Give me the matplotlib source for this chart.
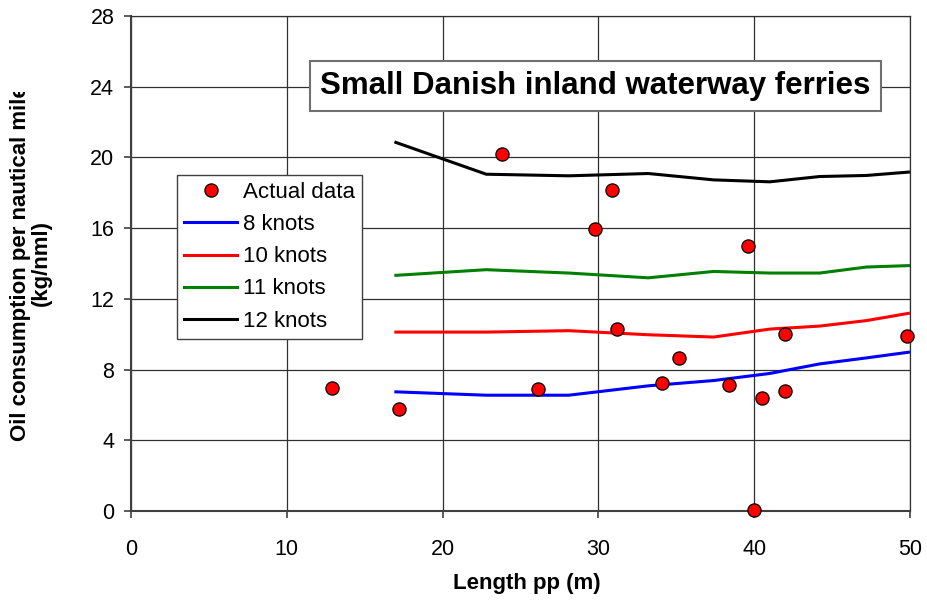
import numpy as np
import matplotlib
matplotlib.use("Agg")
import matplotlib.pyplot as plt
from matplotlib.transforms import Bbox, TransformedBbox

plt.rcParams['font.family'] = ['Liberation Sans', 'DejaVu Sans']

# actual data (length pp, kg/nml)
actual_len = [12.9, 17.2, 23.8, 26.1, 29.8, 30.9, 31.2, 34.1, 35.2, 38.4, 39.6, 40.0, 40.5, 42.0, 42.0, 49.8]
actual_oil = [6.97, 5.75, 20.2, 6.9, 15.95, 18.15, 10.3, 7.22, 8.64, 7.1, 15.0, 0.05, 6.4, 6.78, 10.03, 9.92]

# model curves
model_len = [17.0, 22.8, 28.1, 33.2, 37.4, 41.0, 44.2, 47.2, 49.9]
knots8 = [6.74, 6.55, 6.55, 7.08, 7.38, 7.78, 8.32, 8.66, 8.98]
knots10 = [10.12, 10.12, 10.2, 9.97, 9.84, 10.29, 10.46, 10.77, 11.18]
knots11 = [13.33, 13.65, 13.46, 13.19, 13.55, 13.46, 13.46, 13.8, 13.88]
knots12 = [20.85, 19.05, 18.96, 19.09, 18.73, 18.62, 18.92, 18.98, 19.17]

fig = plt.figure(figsize=(9.28, 6.01), dpi=100)
ax = fig.add_axes([131/928, 1-511/601, 779/928, 495/601])

ax.plot(actual_len, actual_oil, 'o', color='red', markeredgecolor='black',
        markeredgewidth=0.9, markersize=9.5, label='Actual data', zorder=5, clip_on=False)
ax.plot(model_len, knots8, color='blue', lw=2.2, label='8 knots')
ax.plot(model_len, knots10, color='red', lw=2.2, label='10 knots')
ax.plot(model_len, knots11, color='green', lw=2.2, label='11 knots')
ax.plot(model_len, knots12, color='black', lw=2.2, label='12 knots')

ax.set_xlim(0, 50)
ax.set_ylim(0, 28)
ax.set_xticks(range(0, 51, 10))
ax.set_yticks(range(0, 29, 4))
ax.grid(True, color='#303030', lw=0.9)
ax.set_axisbelow(True)
for s in ['left', 'bottom']:
    ax.spines[s].set_color('#404040')
    ax.spines[s].set_linewidth(1.5)
for s in ['top', 'right']:
    ax.spines[s].set_color('#303030')
    ax.spines[s].set_linewidth(0.9)
ax.tick_params(axis='both', labelsize=15.5, length=5, color='#404040', width=1.2)
ax.tick_params(axis='y', pad=7)
ax.tick_params(axis='x', pad=15)

fig.text(527/928, 1-584/601, 'Length pp (m)', ha='center', va='center',
         fontsize=16, fontweight='bold')
ylab = fig.text(31/928, 1-263/601, 'Oil consumption per nautical mile\n(kg/nml)',
                rotation=90, ha='center', va='center', multialignment='center',
                fontsize=16, fontweight='bold', linespacing=1.0)
ylab.set_clip_box(TransformedBbox(Bbox.from_bounds(0, 0, 1, 1-92/601), fig.transFigure))
ylab.set_clip_on(True)

ax.text((595-131)/779, (511-86)/495, 'Small Danish inland waterway ferries',
        transform=ax.transAxes, ha='center', va='center', fontsize=22.5, fontweight='bold',
        bbox=dict(boxstyle='square,pad=0.33', facecolor='white', edgecolor='#707070', lw=1.5),
        zorder=6)

leg = ax.legend(loc='upper left', bbox_to_anchor=((177-131)/779, (511-175)/495),
                borderaxespad=0, fontsize=16, fancybox=False, framealpha=1,
                edgecolor='#404040', handlelength=2.4, handletextpad=0.25,
                labelspacing=0.5, borderpad=0.32)
leg.get_frame().set_linewidth(1.0)
leg.set_zorder(7)

fig.savefig('out.png', dpi=100)
